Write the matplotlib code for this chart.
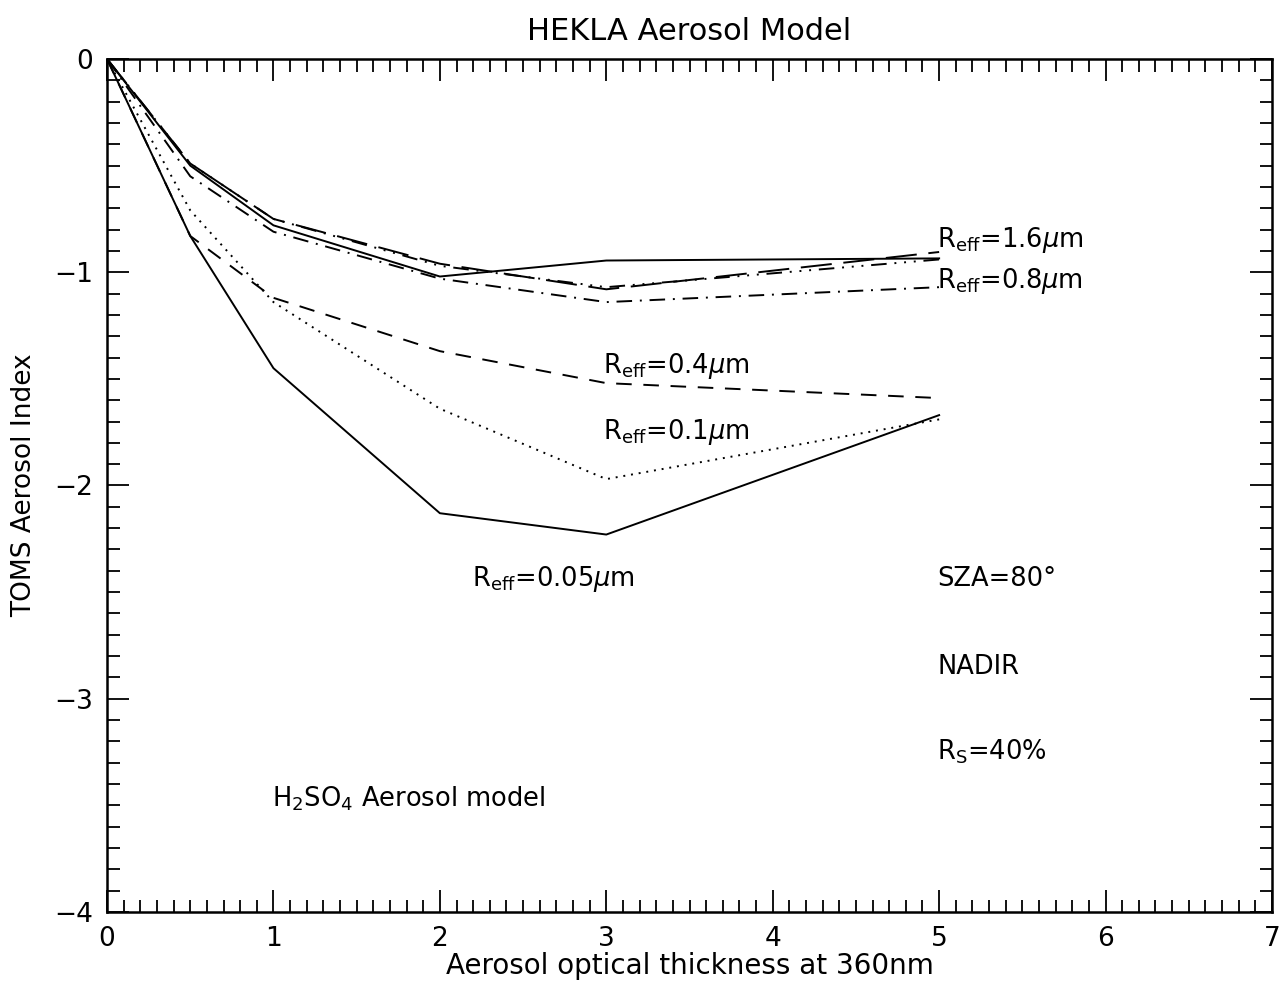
import numpy as np
import matplotlib
matplotlib.use('Agg')
import matplotlib.pyplot as plt
from matplotlib.ticker import MultipleLocator

plt.rcParams['font.family'] = 'DejaVu Sans'
plt.rcParams['mathtext.fontset'] = 'dejavusans'
plt.rcParams['font.size'] = 15

# aerosol optical thickness
tau = [0, 0.5, 1, 2, 3, 5]

# aerosol index per effective radius
ai_005 = [0, -0.83, -1.45, -2.13, -2.23, -1.67]
ai_01 = [0, -0.71, -1.14, -1.64, -1.97, -1.69]
ai_04 = [0, -0.83, -1.12, -1.37, -1.52, -1.59]
ai_08 = [0, -0.55, -0.81, -1.03, -1.14, -1.07]
ai_16_solid = [0, -0.50, -0.78, -1.02, -0.945, -0.935]
ai_16_dash = [0, -0.49, -0.75, -0.96, -1.08, -0.905]
ai_16_dd = [0, -0.49, -0.75, -0.97, -1.07, -0.94]

fig = plt.figure(figsize=(12.79, 9.90), dpi=100)
ax = fig.add_axes([0.0837, 0.0788, 0.9108, 0.8616])

lw = 1.4
ax.plot(tau, ai_005, color='k', lw=lw, ls='-')
ax.plot(tau, ai_01, color='k', lw=lw, ls=(0, (1, 3)))
ax.plot(tau, ai_04, color='k', lw=lw, ls=(0, (8, 6)))
ax.plot(tau, ai_08, color='k', lw=lw, ls=(0, (8, 4, 1, 4)))
ax.plot(tau, ai_16_solid, color='k', lw=lw, ls='-')
ax.plot(tau, ai_16_dash, color='k', lw=lw, ls=(0, (16, 6)))
ax.plot(tau, ai_16_dd, color='k', lw=lw, ls=(0, (8, 4, 1, 4, 1, 4, 1, 4)))

ax.set_xlim(0, 7)
ax.set_ylim(-4, 0)
ax.xaxis.set_major_locator(MultipleLocator(1))
ax.xaxis.set_minor_locator(MultipleLocator(0.1))
ax.yaxis.set_major_locator(MultipleLocator(1))
ax.yaxis.set_minor_locator(MultipleLocator(0.1))
ax.tick_params(which='both', direction='in', top=True, right=True, width=1.3)
ax.tick_params(which='major', length=16, labelsize=19, pad=10)
ax.tick_params(which='minor', length=9)
for s in ax.spines.values():
    s.set_linewidth(1.8)

ax.set_title('HEKLA Aerosol Model', fontsize=22, pad=14)
ax.set_xlabel('Aerosol optical thickness at 360nm', fontsize=20, labelpad=0)
ax.set_ylabel('TOMS Aerosol Index', fontsize=19, labelpad=12)

fs = 18.5
ax.text(4.99, -0.85, r'R$_{\rm eff}$=1.6$\mu$m', fontsize=fs, va='center')
ax.text(4.99, -1.04, r'R$_{\rm eff}$=0.8$\mu$m', fontsize=fs, va='center')
ax.text(2.98, -1.44, r'R$_{\rm eff}$=0.4$\mu$m', fontsize=fs, va='center')
ax.text(2.98, -1.75, r'R$_{\rm eff}$=0.1$\mu$m', fontsize=fs, va='center')
ax.text(2.19, -2.44, r'R$_{\rm eff}$=0.05$\mu$m', fontsize=fs, va='center')
ax.text(4.99, -2.44, 'SZA=80°', fontsize=fs, va='center')
ax.text(4.99, -2.85, 'NADIR', fontsize=fs, va='center')
ax.text(4.99, -3.25, r'R$_{\rm S}$=40%', fontsize=fs, va='center')
ax.text(0.99, -3.47, r'H$_2$SO$_4$ Aerosol model', fontsize=fs, va='center')

plt.savefig('out.png', dpi=100)
